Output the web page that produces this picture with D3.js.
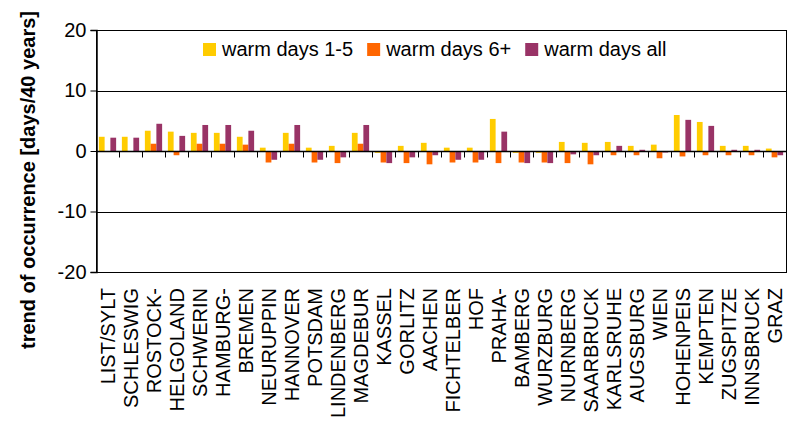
<!DOCTYPE html>
<html>
<head>
<meta charset="utf-8">
<title>warm days trend</title>
<script src="https://cdn.jsdelivr.net/npm/d3@7"></script>
<style>
  body { margin: 0; background: #fff; }
  svg, svg text { font-family: "Liberation Sans", Arial, sans-serif; }
</style>
</head>
<body>
<svg id="chart" width="794" height="423"></svg>
<script>
// stations along the x axis
const stations = ["LIST/SYLT", "SCHLESWIG", "ROSTOCK-", "HELGOLAND", "SCHWERIN", "HAMBURG-",
  "BREMEN", "NEURUPPIN", "HANNOVER", "POTSDAM", "LINDENBERG", "MAGDEBUR", "KASSEL", "GORLITZ",
  "AACHEN", "FICHTELBER", "HOF", "PRAHA-", "BAMBERG", "WURZBURG", "NURNBERG", "SAARBRUCK",
  "KARLSRUHE", "AUGSBURG", "WIEN", "HOHENPEIS", "KEMPTEN", "ZUGSPITZE", "INNSBRUCK", "GRAZ"];

// trend values (days / 40 years)
const days1to5 = [2.35, 2.35, 3.35, 3.2, 3.0, 3.0, 2.35, 0.55, 3.0, 0.55, 0.85, 3.0, -0.3, 0.85,
  1.35, 0.55, 0.55, 5.3, -0.3, -0.3, 1.5, 1.35, 1.5, 0.85, 1.05, 5.95, 4.8, 0.85, 0.85, 0.4];
const days6plus = [0, 0, 1.2, -0.7, 1.2, 1.2, 1.05, -1.9, 1.2, -1.9, -2.0, 1.2, -1.9, -2.0,
  -2.2, -1.9, -1.9, -2.0, -1.9, -1.9, -2.0, -2.2, -0.7, -0.7, -1.2, -0.9, -0.7, -0.7, -0.7, -1.05];
const daysAll = [2.2, 2.2, 4.5, 2.5, 4.3, 4.3, 3.35, -1.45, 4.3, -1.45, -1.05, 4.3, -2.0, -1.05,
  -0.7, -1.45, -1.45, 3.2, -2.0, -2.0, -0.55, -0.7, 0.85, 0.2, -0.25, 5.15, 4.15, 0.2, 0.2, -0.7];

const seriesNames = ["warm days 1-5", "warm days 6+", "warm days all"];
const seriesColors = ["#ffcc00", "#ff6600", "#993366"];
const yTicks = [-20, -10, 0, 10, 20];

const series = [days1to5, days6plus, daysAll];

const plotL = 96, plotR = 786, plotT = 30, plotB = 272;
const svg = d3.select("#chart");

const x = d3.scaleBand()
  .domain(stations)
  .range([plotL, plotR])
  .paddingInner(0)
  .paddingOuter(0);

const inner = d3.scaleBand()
  .domain(d3.range(series.length))
  .range([0, x.bandwidth()])
  .paddingOuter(0.5)
  .paddingInner(0);

const y = d3.scaleLinear()
  .domain([-20, 20])
  .range([plotB, plotT]);

// horizontal grid lines
svg.append("g")
  .selectAll("line")
  .data(yTicks.filter(d => d !== 0 && d !== 20 && d !== -20))
  .enter()
  .append("line")
  .attr("x1", plotL).attr("x2", plotR)
  .attr("y1", d => Math.round(y(d)) + 0.5)
  .attr("y2", d => Math.round(y(d)) + 0.5)
  .attr("stroke", "#000");

// bars
series.forEach((vals, s) => {
  svg.append("g")
    .selectAll("rect")
    .data(vals)
    .enter()
    .append("rect")
    .attr("x", (d, i) => x(stations[i]) + inner(s))
    .attr("width", inner.bandwidth())
    .attr("y", d => y(Math.max(0, d)))
    .attr("height", d => Math.abs(y(d) - y(0)))
    .attr("fill", seriesColors[s]);
});

// plot frame
svg.append("rect")
  .attr("x", plotL + 0.5).attr("y", plotT + 0.5)
  .attr("width", plotR - plotL).attr("height", plotB - plotT)
  .attr("fill", "none")
  .attr("stroke", "#000");

// y axis
const yAxis = svg.append("g")
  .attr("transform", `translate(${plotL + 0.5},0)`)
  .call(d3.axisLeft(y).tickValues(yTicks).tickSize(6).tickPadding(4).tickFormat(d => String(d)));
yAxis.attr("font-family", null);
yAxis.select(".domain").attr("stroke", "#000").attr("stroke-width", 1.5);
yAxis.selectAll(".tick line").attr("stroke", "#000");
yAxis.selectAll("text")
  .attr("font-size", 20)
  .attr("fill", "#000");

// zero line with category separator ticks
const zeroY = Math.round(y(0)) + 0.5;
svg.append("line")
  .attr("x1", plotL).attr("x2", plotR)
  .attr("y1", zeroY).attr("y2", zeroY)
  .attr("stroke", "#000")
  .attr("stroke-width", 1.5);
svg.append("g")
  .selectAll("line")
  .data(stations.slice(1))
  .enter()
  .append("line")
  .attr("x1", d => Math.round(x(d)) + 0.5).attr("x2", d => Math.round(x(d)) + 0.5)
  .attr("y1", zeroY).attr("y2", zeroY + 6)
  .attr("stroke", "#000");

// category labels
svg.append("g")
  .selectAll("text")
  .data(stations)
  .enter()
  .append("text")
  .attr("transform", d => `translate(${x(d) + x.bandwidth() / 2 + 7},288) rotate(-90)`)
  .attr("text-anchor", "end")
  .attr("font-size", 20)
  .attr("fill", "#000")
  .text(d => d);

// y title
svg.append("text")
  .attr("transform", "translate(35,180) rotate(-90)")
  .attr("text-anchor", "middle")
  .attr("font-size", 20)
  .attr("font-weight", "bold")
  .text("trend of occurrence [days/40 years]");

// legend
const legend = svg.append("g");
let lx = 203;
seriesNames.forEach((name, i) => {
  legend.append("rect")
    .attr("x", lx).attr("y", 43)
    .attr("width", 13).attr("height", 13)
    .attr("fill", seriesColors[i]);
  const t = legend.append("text")
    .attr("x", lx + 19).attr("y", 56)
    .attr("font-size", 20)
    .text(name);
  lx += 19 + t.node().getComputedTextLength() + 14;
});
</script>
</body>
</html>
